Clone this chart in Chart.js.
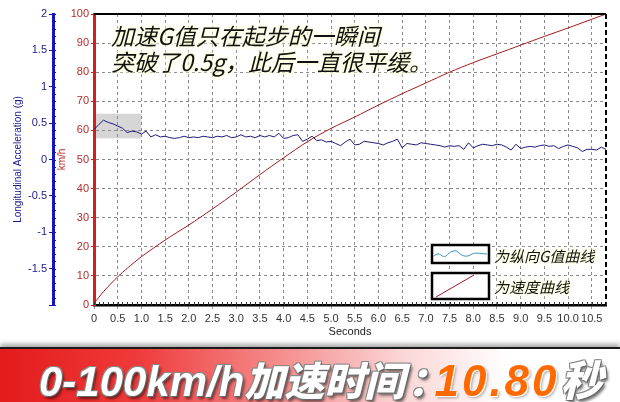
<!DOCTYPE html>
<html>
<head>
<meta charset="utf-8">
<script src="https://cdn.jsdelivr.net/npm/chart.js@4.4.1/dist/chart.umd.min.js"></script>
<style>
    html, body { margin: 0; padding: 0; background: #fff; }
    #wrap { position: relative; width: 620px; height: 402px; overflow: hidden; }
    #chart { position: absolute; left: 0; top: 0; }
    .glow { text-shadow: 0 0 2px #ffffd8, 0 0 4px #ffffd8, 0 0 6px #ffffe4, 0 0 9px #ffffec; color: #111; }
    .note { position: absolute; left: 111px; top: 22px; font: italic 23px "Noto Sans CJK SC", sans-serif; line-height: 26px; white-space: nowrap; }
    .leg { position: absolute; left: 494px; font: italic 15px "Noto Sans CJK SC", sans-serif; line-height: 18px; white-space: nowrap; }
    .banner {
        position: absolute; left: 0; top: 347px; width: 620px; height: 55px;
        border-top: 2px solid #1a1a1a;
        box-shadow: 0 -3px 5px rgba(0,0,0,0.35);
        background: linear-gradient(to right, #e41b1b 0%, #ef3a3a 22%, #f58c8c 45%, #fbd6d6 65%, #ffffff 82%);
    }
    .banner span.t {
        position: absolute; left: 39px; top: -2px; white-space: nowrap;
        font: italic bold 42px "Liberation Sans", "Noto Sans CJK SC", sans-serif;
        color: #fff;
        text-shadow: 1px 1px 0 #666, -1px -1px 0 #888, 1px -1px 0 #888, -1px 1px 0 #888, 2px 3px 3px rgba(0,0,0,0.55);
    }
    .banner span.cjk { font-family: "Noto Sans CJK SC", sans-serif; font-weight: 900; font-size: 40px; }
    .banner span.colon { letter-spacing: -14px; margin-left: 3px; margin-right: 1px; }
    .banner span.num { color: #ff6a00; font-size: 44px; letter-spacing: 3px; text-shadow: 0 0 2px #fff, 1px 1px 0 #fff, 2px 2px 3px rgba(0,0,0,0.35); }
    .banner span.sec { font-size: 42px; margin-left: 1px; }
</style>
</head>
<body>
<div id="wrap">
    <canvas id="chart" width="620" height="402"></canvas>
    <div class="note glow">加速G值只在起步的一瞬间<br>突破了0.5g，此后一直很平缓。</div>
    <div class="leg glow" style="top:247px">为纵向G值曲线</div>
    <div class="leg glow" style="top:278px">为速度曲线</div>
    <div class="banner"><span class="t">0-100km/h<span class="cjk">加速时间<span class="colon">：</span></span><span class="num">10.80</span><span class="cjk sec">秒</span></span></div>
</div>
<script>
// Time base of the acceleration trace (s)
const times = [
    0, 0.1, 0.2, 0.3, 0.4, 0.5, 0.6, 0.7, 0.8, 0.9,
    1, 1.1, 1.2, 1.3, 1.4, 1.5, 1.6, 1.7, 1.8, 1.9,
    2, 2.1, 2.2, 2.3, 2.4, 2.5, 2.6, 2.7, 2.8, 2.9,
    3, 3.1, 3.2, 3.3, 3.4, 3.5, 3.6, 3.7, 3.8, 3.9,
    4, 4.1, 4.2, 4.3, 4.4, 4.5, 4.6, 4.7, 4.8, 4.9,
    5, 5.1, 5.2, 5.3, 5.4, 5.5, 5.6, 5.7, 5.8, 5.9,
    6, 6.1, 6.2, 6.3, 6.4, 6.5, 6.6, 6.7, 6.8, 6.9,
    7, 7.1, 7.2, 7.3, 7.4, 7.5, 7.6, 7.7, 7.8, 7.9,
    8, 8.1, 8.2, 8.3, 8.4, 8.5, 8.6, 8.7, 8.8, 8.9,
    9, 9.1, 9.2, 9.3, 9.4, 9.5, 9.6, 9.7, 9.8, 9.9,
    10, 10.1, 10.2, 10.3, 10.4, 10.5, 10.6, 10.7, 10.8
];

// Longitudinal acceleration (g)
const accelG = [
    0.41, 0.48, 0.54, 0.51, 0.49, 0.46, 0.43, 0.37, 0.39, 0.38,
    0.35, 0.39, 0.31, 0.34, 0.31, 0.32, 0.30, 0.29, 0.30, 0.32,
    0.30, 0.31, 0.30, 0.32, 0.31, 0.30, 0.32, 0.31, 0.33, 0.30,
    0.31, 0.34, 0.31, 0.32, 0.30, 0.33, 0.31, 0.33, 0.31, 0.36,
    0.29, 0.30, 0.33, 0.34, 0.25, 0.28, 0.32, 0.26, 0.27, 0.24,
    0.25, 0.22, 0.19, 0.24, 0.28, 0.20, 0.21, 0.25, 0.24, 0.23,
    0.22, 0.20, 0.23, 0.25, 0.28, 0.16, 0.22, 0.21, 0.20, 0.23,
    0.22, 0.21, 0.20, 0.19, 0.17, 0.19, 0.18, 0.19, 0.14, 0.23,
    0.16, 0.19, 0.21, 0.20, 0.19, 0.21, 0.20, 0.17, 0.13, 0.21,
    0.15, 0.17, 0.18, 0.17, 0.19, 0.20, 0.18, 0.19, 0.15, 0.18,
    0.20, 0.18, 0.16, 0.11, 0.14, 0.14, 0.13, 0.17, 0.14
];

// Speed trace (km/h)
const speedTimes = [0, 0.2, 0.5, 0.7, 1.0, 1.5, 2.0, 2.5, 3.0, 3.5, 4.0, 4.5, 5.0, 5.5, 6.0, 6.5, 7.0, 7.5, 8.0, 8.5, 9.0, 9.5, 10.0, 10.5, 10.8];
const speedKmh = [0.5, 4.6, 9.7, 12.6, 16.6, 22.3, 27.5, 33.0, 38.8, 44.8, 50.6, 56.1, 60.7, 64.6, 68.7, 72.6, 76.3, 80.0, 83.3, 86.3, 89.3, 92.3, 95.2, 98.2, 100];

// x axis tick labels (s)
const xTicks = [0, 0.5, 1, 1.5, 2, 2.5, 3, 3.5, 4, 4.5, 5, 5.5, 6, 6.5, 7, 7.5, 8, 8.5, 9, 9.5, 10, 10.5];

// Highlighted start region: [t0, t1, g0, g1]
const highlight = [0, 1, 0.29, 0.63];

const decorPlugin = {
    id: 'decor',
    beforeDraw(chart) {
        const { ctx, scales: { x, g } } = chart;
        ctx.save();
        ctx.fillStyle = '#d6d6d6';
        const x0 = x.getPixelForValue(highlight[0]), x1 = x.getPixelForValue(highlight[1]);
        const y0 = g.getPixelForValue(highlight[3]), y1 = g.getPixelForValue(highlight[2]);
        ctx.fillRect(x0, y0, x1 - x0, y1 - y0);
        ctx.restore();
    },
    afterDraw(chart) {
        const { ctx, chartArea: a, scales: { x, g } } = chart;
        ctx.save();
        // top solid border, right dashed border
        ctx.strokeStyle = '#000';
        ctx.lineWidth = 2;
        ctx.beginPath(); ctx.moveTo(a.left, a.top); ctx.lineTo(a.right, a.top); ctx.stroke();
        ctx.setLineDash([5, 3]);
        ctx.beginPath(); ctx.moveTo(a.right, a.top); ctx.lineTo(a.right, a.bottom); ctx.stroke();
        ctx.setLineDash([]);

        // minor ticks on the g axis
        ctx.strokeStyle = '#1515c0';
        ctx.lineWidth = 1;
        for (let v = -20; v <= 20; v++) {
            const y = Math.round(g.getPixelForValue(v / 10)) + 0.5;
            ctx.beginPath(); ctx.moveTo(g.right, y); ctx.lineTo(g.right + 3, y); ctx.stroke();
        }
        // minor ticks on the x axis
        ctx.strokeStyle = '#333';
        for (let v = 0; v <= 108; v++) {
            const px = Math.round(x.getPixelForValue(v / 10)) + 0.5;
            ctx.beginPath(); ctx.moveTo(px, a.bottom - 3); ctx.lineTo(px, a.bottom); ctx.stroke();
        }

        // legend boxes
        const bx = 432, bw = 57;
        ctx.fillStyle = '#fff';
        ctx.strokeStyle = '#000';
        ctx.lineWidth = 2.5;
        ctx.fillRect(bx, 245, bw, 18); ctx.strokeRect(bx, 245, bw, 18);
        ctx.fillRect(bx, 273, bw, 26); ctx.strokeRect(bx, 273, bw, 26);
        // sample wave
        ctx.strokeStyle = '#3f8fc0';
        ctx.lineWidth = 1;
        ctx.beginPath();
        ctx.moveTo(bx + 2, 256);
        ctx.bezierCurveTo(bx + 8, 250, bx + 10, 259, bx + 14, 256);
        ctx.bezierCurveTo(bx + 18, 252, bx + 22, 249, bx + 26, 252);
        ctx.bezierCurveTo(bx + 30, 256, bx + 34, 258, bx + 40, 254);
        ctx.bezierCurveTo(bx + 44, 252, bx + 50, 254, bx + 55, 254);
        ctx.stroke();
        // sample speed line
        ctx.strokeStyle = '#a0182a';
        ctx.beginPath(); ctx.moveTo(bx + 4, 297); ctx.lineTo(bx + 42, 275); ctx.stroke();
        ctx.restore();
    }
};

new Chart(document.getElementById('chart'), {
    type: 'scatter',
    data: {
        datasets: [
            {
                label: '纵向G值',
                data: times.map((t, i) => ({ x: t, y: accelG[i] })),
                yAxisID: 'g',
                showLine: true,
                borderColor: '#1c1c7a',
                borderWidth: 1,
                pointRadius: 0,
                tension: 0
            },
            {
                label: '速度',
                data: speedTimes.map((t, i) => ({ x: t, y: speedKmh[i] })),
                yAxisID: 'v',
                showLine: true,
                borderColor: '#a31a1a',
                borderWidth: 1,
                pointRadius: 0,
                tension: 0.3
            }
        ]
    },
    options: {
        responsive: false,
        animation: false,
        events: [],
        layout: { padding: { top: 14, right: 14, bottom: 62, left: 0 } },
        plugins: { legend: { display: false }, tooltip: { enabled: false } },
        scales: {
            x: {
                type: 'linear',
                min: 0, max: 10.8,
                afterBuildTicks: s => { s.ticks = xTicks.map(v => ({ value: v })); },
                afterFit: s => { s.height = 35; },
                ticks: { color: '#333', font: { family: 'Liberation Sans', size: 11 }, padding: 3, maxRotation: 0, autoSkip: false },
                grid: { color: '#8a8a8a', lineWidth: 1, tickLength: 4, tickColor: '#999' },
                border: { color: '#000', width: 2.5, dash: [3, 3] },
                title: { display: true, text: 'Seconds', color: '#222', font: { family: 'Liberation Sans', size: 11 }, padding: { top: 0, bottom: 1 } }
            },
            v: {
                position: 'left',
                weight: 0,
                min: 0, max: 100,
                afterFit: s => { s.width = 41; },
                ticks: { stepSize: 10, color: '#b52a2a', font: { family: 'Liberation Sans', size: 11 }, padding: 2 },
                grid: { color: '#8a8a8a', lineWidth: 1, tickLength: 3, tickColor: '#c02020' },
                border: { color: '#d02020', width: 3, dash: [3, 3] },
                title: { display: true, text: 'km/h', color: '#b52a2a', font: { family: 'Liberation Sans', size: 10 }, padding: 3 }
            },
            g: {
                position: 'left',
                weight: 1,
                min: -2, max: 2,
                afterFit: s => { s.width = 53; },
                ticks: { stepSize: 0.5, color: '#1a1a8c', font: { family: 'Liberation Sans', size: 11 }, padding: 2,
                         callback: v => v === -2 ? '' : String(v) },
                grid: { drawOnChartArea: false, tickLength: 4, color: '#1515c0' },
                border: { color: '#1515c8', width: 3 },
                title: { display: true, text: 'Longitudinal Acceleration (g)', color: '#1a1a8c', font: { family: 'Liberation Sans', size: 10 }, padding: 12 }
            }
        }
    },
    plugins: [decorPlugin]
});
</script>
</body>
</html>
